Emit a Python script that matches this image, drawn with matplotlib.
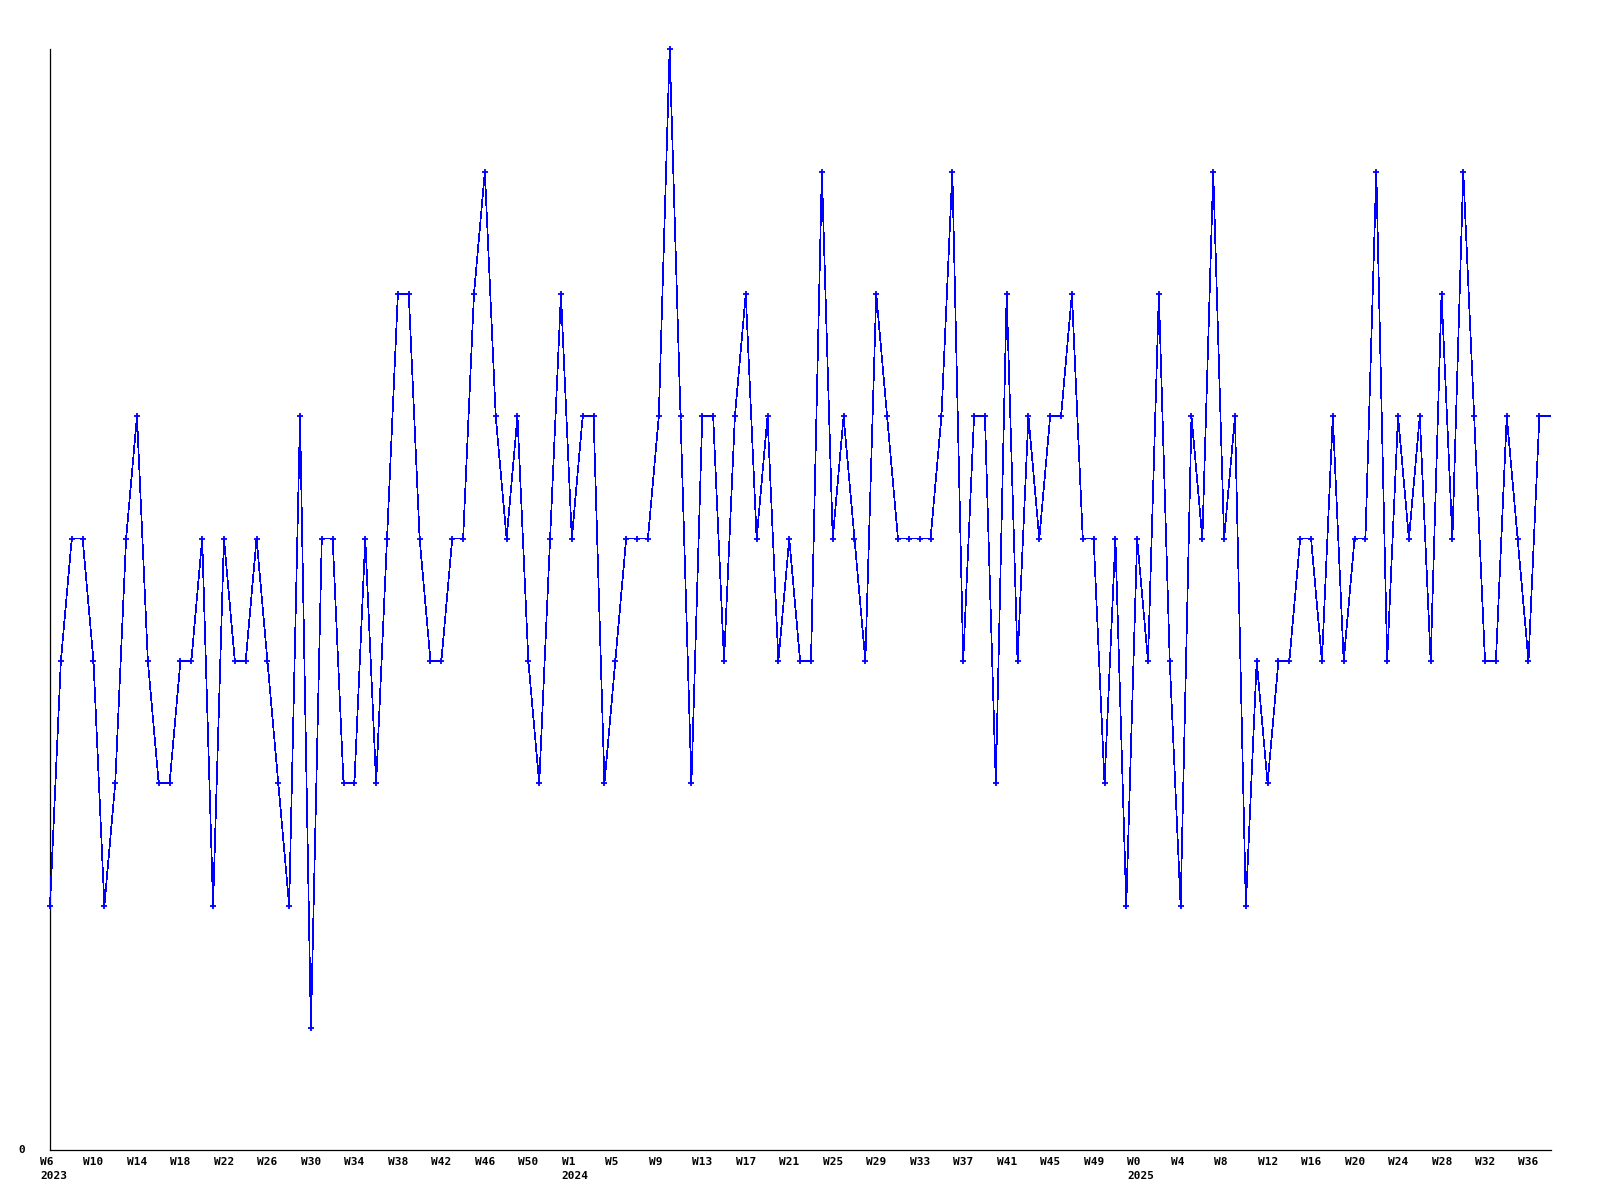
import matplotlib
matplotlib.use("Agg")
import matplotlib.pyplot as plt
import matplotlib.transforms as mtransforms

# weekly counts, one per week starting at W6 2023 (last value is the running week)
values_2023 = [2, 4, 5, 5, 4, 2, 3, 5, 6, 4, 3, 3, 4, 4, 5, 2, 5, 4, 4, 5, 4, 3, 2, 6,
               1, 5, 5, 3, 3, 5, 3, 5, 7, 7, 5, 4, 4, 5, 5, 7, 8, 6, 5, 6, 4, 3, 5, 7]
values_2024 = [5, 6, 6, 3, 4, 5, 5, 5, 6, 9, 6, 3, 6, 6, 4, 6, 7, 5, 6, 4, 5, 4, 4, 8,
               5, 6, 5, 4, 7, 6, 5, 5, 5, 5, 6, 8, 4, 6, 6, 3, 7, 4, 6, 5, 6, 6, 7, 5,
               5, 3, 5, 2]
values_2025 = [5, 4, 7, 4, 2, 6, 5, 8, 5, 6, 2, 4, 3, 4, 4, 5, 5, 4, 6, 4, 5, 5, 8, 4,
               6, 5, 6, 4, 7, 5, 8, 6, 4, 4, 6, 5, 4, 6, 6]

# x labels, one every 4 weeks
week_labels = ["W6", "W10", "W14", "W18", "W22", "W26", "W30", "W34", "W38", "W42", "W46", "W50",
               "W1", "W5", "W9", "W13", "W17", "W21", "W25", "W29", "W33", "W37", "W41", "W45", "W49",
               "W0", "W4", "W8", "W12", "W16", "W20", "W24", "W28", "W32", "W36"]
year_labels = {"W6": "2023", "W1": "2024", "W0": "2025"}

values = values_2023 + values_2024 + values_2025
n_full = len(values) - 1  # last week still running, drawn without a marker
x = list(range(len(values)))

fig = plt.figure(figsize=(16, 12), dpi=100)
ax = fig.add_axes([50 / 1600, 49.7 / 1200, 1501 / 1600, 1101 / 1200])

ax.plot(x, values, color="#0000ff", lw=0.5, marker="+", ms=4.5, mew=1.3,
        markevery=list(range(n_full)), clip_on=False, antialiased=False, zorder=3)

ax.set_xlim(0, n_full + 0.07)
ax.set_ylim(0, 9)

for s in ["top", "right"]:
    ax.spines[s].set_visible(False)
for s in ["left", "bottom"]:
    ax.spines[s].set_linewidth(0.9)
    ax.spines[s].set_color("black")

ax.set_xticks([])
ax.set_yticks([])

fnt = dict(fontsize=8, fontweight="bold", family="DejaVu Sans Mono")
base = mtransforms.blended_transform_factory(ax.transData, ax.transAxes)
for i, lab in enumerate(week_labels):
    txt = lab
    if lab in year_labels:
        txt = lab + "\n" + year_labels[lab]
    tr = mtransforms.offset_copy(base, fig=fig, x=-10, y=-7, units="dots")
    ax.text(i * 4, 0, txt, transform=tr, ha="left", va="top", linespacing=1.45, **fnt)

tr0 = mtransforms.offset_copy(ax.transAxes, fig=fig, x=-25, y=0, units="dots")
ax.text(0, 0, "0", transform=tr0, ha="right", va="center", **fnt)

fig.savefig("out.png", dpi=100)
